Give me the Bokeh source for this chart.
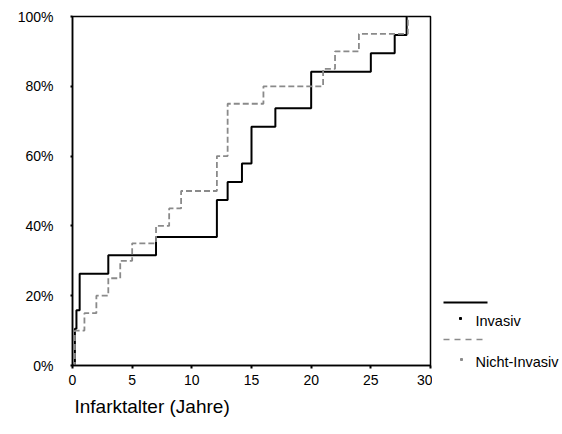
from bokeh.plotting import figure
from bokeh.models import Range1d, FixedTicker, NumeralTickFormatter, Title
from bokeh.layouts import row
from bokeh.embed import file_html
from bokeh.resources import INLINE
from bokeh.core.properties import value

# Cumulative distribution (step functions)
invasiv_x = [0, 0.2, 0.33, 0.6, 3, 7, 12.1, 13, 14.2, 15, 17, 20, 25, 27, 28]
invasiv_y = [0, 0.105, 0.158, 0.263, 0.316, 0.368, 0.474, 0.526, 0.579, 0.684, 0.737, 0.842, 0.895, 0.947, 1.0]

nicht_x = [0, 0.2, 1, 2, 3, 4, 5, 7, 8.1, 9.1, 12.1, 13, 16, 21, 22, 24, 28.1]
nicht_y = [0, 0.10, 0.15, 0.20, 0.25, 0.30, 0.35, 0.40, 0.45, 0.50, 0.60, 0.75, 0.80, 0.85, 0.90, 0.95, 1.0]

x_ticks = [0, 5, 10, 15, 20, 25, 30]
y_ticks = [0, 0.2, 0.4, 0.6, 0.8, 1.0]
x_title = "Infarktalter (Jahre)"
series_names = ["Invasiv", "Nicht-Invasiv"]

FONT = "Liberation Sans"

p = figure(width=432, height=434, x_range=Range1d(0, 30), y_range=Range1d(0, 1),
           toolbar_location=None, output_backend="svg",
           min_border_left=72, min_border_right=2, min_border_top=16, min_border_bottom=69)
p.frame_align = False
p.grid.visible = False
p.outline_line_color = "black"
p.outline_line_width = 1.5

p.step(invasiv_x, invasiv_y, mode="after", line_color="black", line_width=2)
p.step(nicht_x, nicht_y, mode="after", line_color="#8a8a8a", line_width=1.8, line_dash="6 3")

p.xaxis.ticker = FixedTicker(ticks=x_ticks)
p.yaxis.ticker = FixedTicker(ticks=y_ticks)
p.yaxis.formatter = NumeralTickFormatter(format="0%")
for ax in (p.xaxis, p.yaxis):
    ax.axis_line_color = "black"
    ax.axis_line_width = 1.5
    ax.major_tick_line_color = "black"
    ax.major_tick_line_width = 2
    ax.major_tick_in = 0
    ax.minor_tick_line_color = None
    ax.major_label_text_font = FONT
    ax.major_label_text_font_size = "14px"
    ax.major_label_text_color = "black"
p.xaxis.major_tick_out = 3
p.yaxis.major_tick_out = 2
p.xaxis.major_label_standoff = 6
p.yaxis.major_label_standoff = 17

p.add_layout(Title(text=x_title, align="left", text_font=FONT, text_font_size="19px",
                   text_font_style="normal", text_color="black", offset=2, standoff=12), "below")

# Legend panel: full-height frame in page pixel coordinates
leg = figure(width=130, height=434, x_range=Range1d(432, 562), y_range=Range1d(434, 0),
             toolbar_location=None, output_backend="svg", min_border=0,
             x_axis_location=None, y_axis_location=None)
leg.frame_align = False
leg.grid.visible = False
leg.outline_line_color = None

leg.line([443, 487], [302, 302], line_color="black", line_width=2)
leg.scatter([460], [318], marker="square", size=2, color="black")
leg.line([443, 487], [339, 339], line_color="#8a8a8a", line_width=1.5, line_dash="6 5")
leg.scatter([461], [359], marker="square", size=2, color="#8a8a8a")
leg.text([475, 475], [320, 361], text=series_names, text_font=value(FONT),
         text_font_size="14.5px", text_baseline="middle", text_color="black")

layout = row(p, leg)
open("out.html", "w").write(file_html(layout, INLINE))
